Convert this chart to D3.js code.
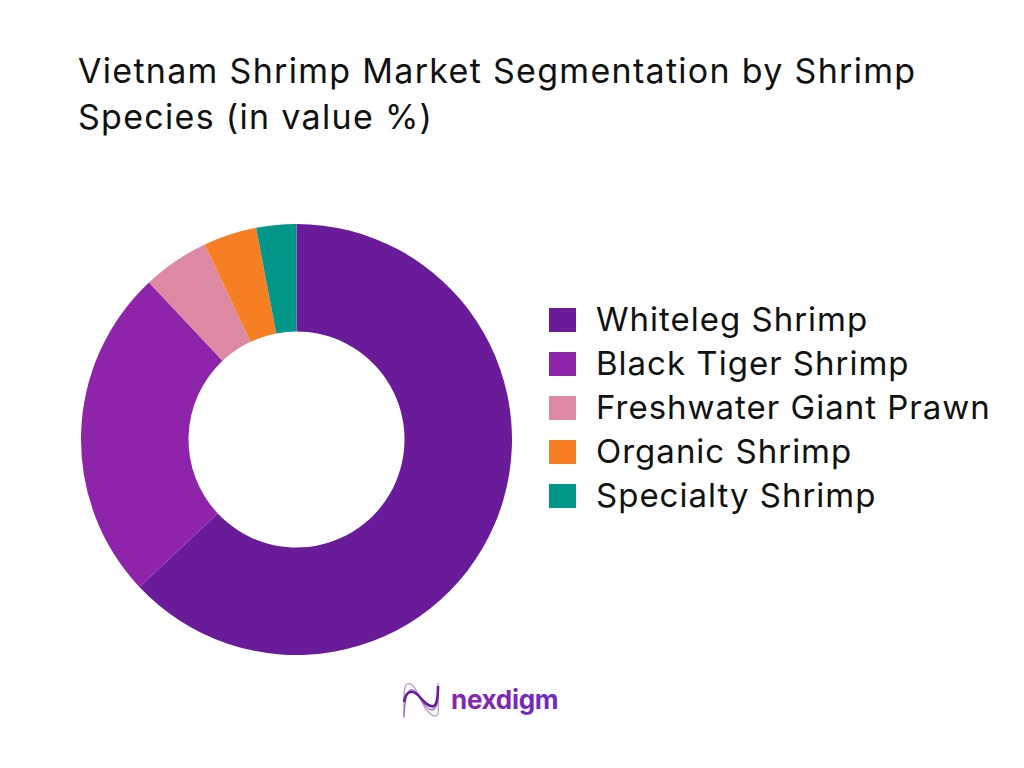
<!DOCTYPE html>
<html>
<head>
<meta charset="utf-8">
<script src="https://cdn.jsdelivr.net/npm/d3@7"></script>
<style>
  html, body { margin: 0; padding: 0; background: #fff; }
  text { font-family: "Inter", sans-serif; fill: #111; }
</style>
</head>
<body>
<div id="chart"></div>
<script>
const categories = ["Whiteleg Shrimp", "Black Tiger Shrimp", "Freshwater Giant Prawn", "Organic Shrimp", "Specialty Shrimp"];
const shares = [63, 25, 5, 4, 3];
const colours = ["#6a1b9a", "#8e24aa", "#de89a3", "#f77f23", "#009688"];
const titleLines = ["Vietnam Shrimp Market Segmentation by Shrimp", "Species (in value %)"];

const width = 1024, height = 768;
const centre = {x: 296.5, y: 439.5};
const outerRadius = 215.5, innerRadius = 108;

const svg = d3.select("#chart").append("svg")
  .attr("width", width)
  .attr("height", height)
  .style("display", "block");

svg.selectAll(".title")
  .data(titleLines)
  .enter().append("text")
    .classed("title", true)
    .attr("x", 78)
    .attr("y", (d, i) => 83 + i * 46)
    .style("font-size", "34px")
    .style("letter-spacing", "1.3px")
    .text(d => d);

const pie = d3.pie().sort(null).value(d => d);
const arc = d3.arc().innerRadius(innerRadius).outerRadius(outerRadius);
const colour = d3.scaleOrdinal().domain(categories).range(colours);

svg.append("g")
  .attr("transform", `translate(${centre.x}, ${centre.y})`)
  .selectAll(".slice")
  .data(pie(shares))
  .enter().append("path")
    .classed("slice", true)
    .attr("d", arc)
    .attr("fill", (d, i) => colour(categories[i]));

const legendY = d3.scalePoint().domain(categories).range([320, 496]);

const legend = svg.selectAll(".legend-item")
  .data(categories)
  .enter().append("g")
    .classed("legend-item", true)
    .attr("transform", d => `translate(549, ${legendY(d)})`);

legend.append("rect")
  .attr("x", 0)
  .attr("y", -12)
  .attr("width", 27)
  .attr("height", 24)
  .attr("fill", d => colour(d));

legend.append("text")
  .attr("x", 47)
  .attr("y", 11)
  .style("font-size", "33px")
  .style("letter-spacing", "1px")
  .text(d => d);

// logo
const defs = svg.append("defs");
const logoGradient = defs.append("linearGradient").attr("id", "logo-text");
logoGradient.append("stop").attr("offset", "0%").attr("stop-color", "#8e24aa");
logoGradient.append("stop").attr("offset", "100%").attr("stop-color", "#6a2bc4");

const logo = svg.append("g").attr("transform", "translate(403, 682)");
const wavePaths = [
  "M1 36 C1 20 0 4 4 2 C10 -1 15 12 20 22 C24 30 32 38 35 32 C36 26 35 12 35 1",
  "M1 34 C2 14 5 6 10 8 C16 11 20 24 26 27 C32 30 35 24 35 12",
  "M1 20 C3 8 10 8 15 13 C20 19 26 26 31 24 C34 22 35 14 35 4"
];
logo.selectAll("path")
  .data(wavePaths)
  .enter().append("path")
    .attr("d", d => d)
    .attr("fill", "none")
    .attr("stroke", (d, i) => ["#b79ad6", "#9c6cc8", "#6a1b9a"][i])
    .attr("stroke-width", (d, i) => [1.3, 1.3, 2.6][i]);

svg.append("text")
  .attr("x", 451)
  .attr("y", 709)
  .style("font-size", "26px")
  .style("font-weight", "700")
  .style("letter-spacing", "-0.3px")
  .style("fill", "url(#logo-text)")
  .text("nexdigm");
</script>
</body>
</html>
